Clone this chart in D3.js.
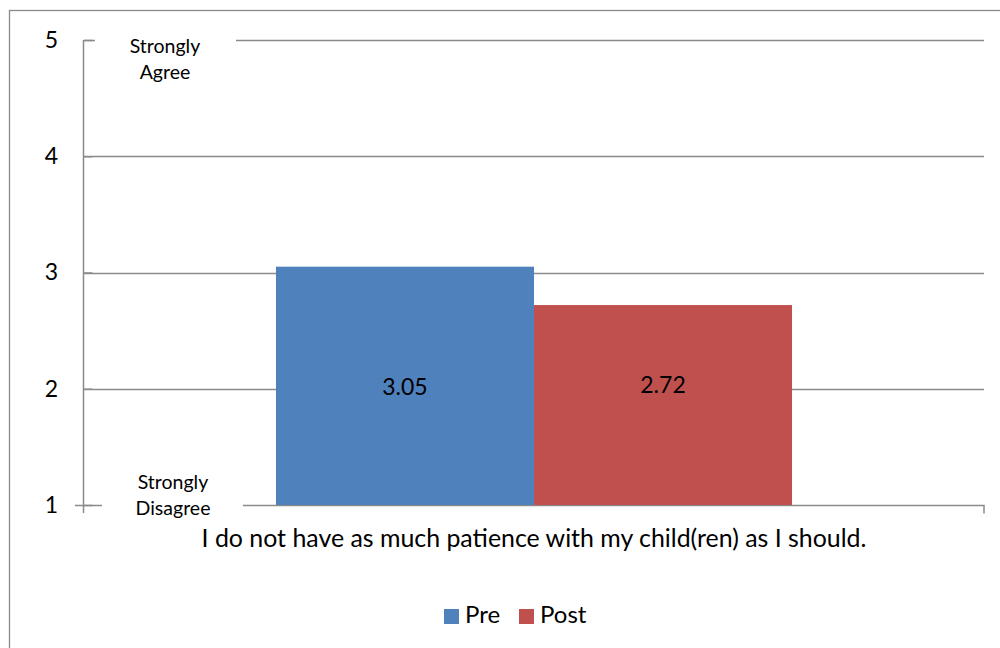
<!DOCTYPE html>
<html>
<head>
<meta charset="utf-8">
<script src="https://cdn.jsdelivr.net/npm/d3@7"></script>
<style>
  html, body { margin: 0; padding: 0; background: #fff; }
  svg { display: block; }
  text { font-family: Lato, "Open Sans", sans-serif; fill: #000; }
</style>
</head>
<body>
<svg id="chart" width="1000" height="648"></svg>
<script>
// ---- data ----
const categories = ["I do not have as much patience with my child(ren) as I should."];
const seriesNames = ["Pre", "Post"];
const seriesValues = [3.05, 2.72];
const seriesColors = ["#4F81BD", "#C0504D"];
const yTicks = [1, 2, 3, 4, 5];
const topLabel = ["Strongly", "Agree"];
const bottomLabel = ["Strongly", "Disagree"];

// ---- layout ----
const svg = d3.select("#chart");
const W = 1000, H = 648;
const plot = { left: 84, right: 984, top: 40, bottom: 505 };
const grid = "#8a8a8a";

// outer frame
svg.append("rect")
  .attr("x", 9.5).attr("y", 10.5)
  .attr("width", W + 20).attr("height", H + 20)
  .attr("fill", "#fff").attr("stroke", grid).attr("stroke-width", 1.3);

const y = d3.scaleLinear().domain([1, 5]).range([plot.bottom, plot.top]);
const x0 = d3.scaleBand().domain(categories).range([plot.left, plot.right]).paddingInner(0).paddingOuter(0.372);
const x1 = d3.scaleBand().domain(seriesNames).range([0, x0.bandwidth()]).padding(0);

// gridlines
const gridG = svg.append("g");
gridG.selectAll("line.grid").data(yTicks.filter(d => d > 1)).join("line")
  .attr("x1", plot.left).attr("x2", plot.right)
  .attr("y1", d => Math.round(y(d)) + 0.5).attr("y2", d => Math.round(y(d)) + 0.5)
  .attr("stroke", grid).attr("stroke-width", 1.5);

// axes (D3)
const yAxis = d3.axisLeft(y).tickValues(yTicks).tickSize(9).tickPadding(22).tickFormat(d3.format("d"));
const yg = svg.append("g").attr("transform", `translate(${plot.left - 0.5},0)`).call(yAxis);
yg.select(".domain").attr("stroke", grid).attr("stroke-width", 1.5).attr("d", `M0,${y(5)}V${y(1) + 8}`);
yg.selectAll(".tick line").attr("stroke", grid).attr("stroke-width", 1.5).attr("x2", 9);
yg.selectAll(".tick text").style("font-size", "23px").attr("font-family", null).attr("fill", "#000")
  .attr("text-anchor", "middle").attr("x", -32);

// category axis (baseline)
const xAxis = d3.axisBottom(x0).tickSize(0).tickFormat("");
const xg = svg.append("g").attr("transform", `translate(0,${Math.round(y(1)) + 0.5})`).call(xAxis);
xg.select(".domain").attr("stroke", grid).attr("stroke-width", 1.5).attr("d", `M${plot.left - 9},0H${plot.right}V8`);
xg.selectAll(".tick").remove();

// Strongly Agree / Disagree boxes
function labelBox(lines, cx, cyTop, boxX0, boxX1, boxY0, boxY1) {
  svg.append("rect").attr("x", boxX0).attr("y", boxY0).attr("width", boxX1 - boxX0).attr("height", boxY1 - boxY0).attr("fill", "#fff");
  svg.append("text").attr("text-anchor", "middle").style("font-size", "19.5px")
    .selectAll("tspan").data(lines).join("tspan")
    .attr("x", cx).attr("y", (d, i) => cyTop + i * 26).text(d => d);
}
labelBox(topLabel, 165, 53, 95, 236, 30, 86);
labelBox(bottomLabel, 173, 489, 102, 243, 466, 520);

// bars
const barG = svg.append("g");
categories.forEach(cat => {
  barG.selectAll("rect.bar").data(seriesValues.map((v, i) => ({ v, i }))).join("rect")
    .attr("class", "bar")
    .attr("x", d => x0(cat) + x1(seriesNames[d.i]))
    .attr("width", x1.bandwidth())
    .attr("y", d => y(d.v))
    .attr("height", d => y(1) - y(d.v))
    .attr("fill", d => seriesColors[d.i]);
  // value labels
  barG.selectAll("text.val").data(seriesValues.map((v, i) => ({ v, i }))).join("text")
    .attr("class", "val")
    .attr("x", d => x0(cat) + x1(seriesNames[d.i]) + x1.bandwidth() / 2)
    .attr("y", d => y((seriesValues[0] + 1) / 2) - d.i * 2)
    .attr("text-anchor", "middle").attr("dominant-baseline", "central")
    .style("font-size", "23px")
    .text(d => d.v.toFixed(2));
});

// category label
svg.append("text")
  .attr("x", x0(categories[0]) + x0.bandwidth() / 2)
  .attr("y", 547)
  .attr("text-anchor", "middle")
  .style("font-size", "24.9px")
  .text(categories[0]);

// legend
const legend = svg.append("g");
const legX = [444, 519];
seriesNames.forEach((s, i) => {
  legend.append("rect").attr("x", legX[i]).attr("y", 609).attr("width", 15).attr("height", 15).attr("fill", seriesColors[i]);
  legend.append("text").attr("x", legX[i] + 21).attr("y", 623).style("font-size", "24px").text(s);
});
</script>
</body>
</html>
